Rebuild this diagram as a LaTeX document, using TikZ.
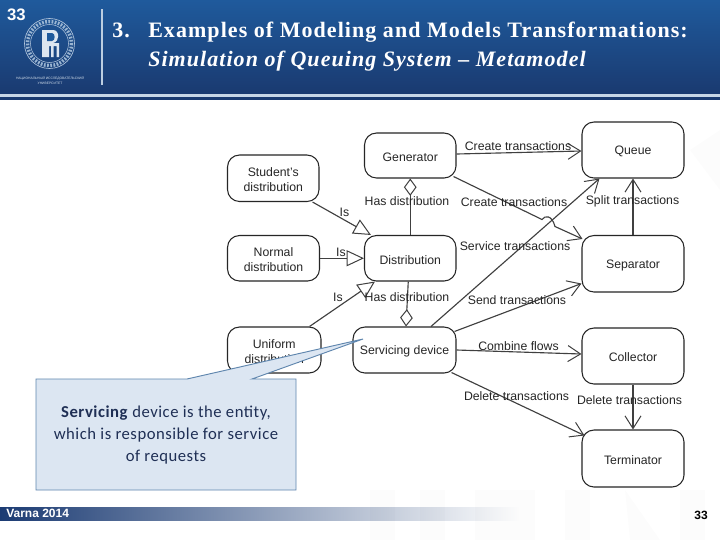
\documentclass[tikz,border=0pt]{standalone}
\usepackage{fontspec}
\setmainfont{Liberation Sans}
\newfontfamily\ttlfont[LetterSpace=4.8]{Liberation Serif}
\newfontfamily\callfont[LetterSpace=3.1]{Carlito}
\usetikzlibrary{arrows.meta,calc,shapes.misc}
\definecolor{hdtop}{HTML}{1F5A9C}
\definecolor{hdbot}{HTML}{1A3A70}
\definecolor{navy}{HTML}{1B3B73}
\definecolor{calfill}{HTML}{DCE6F2}
\definecolor{caledge}{HTML}{5F86AE}
\definecolor{caltext}{HTML}{1F2F55}
\tikzset{
 ent/.style={draw=black!85,line width=.8pt,rounded corners=9pt,fill=white,inner sep=0pt},
 lbl/.style={inner sep=0pt,font=\fontsize{9.2}{10.9}\selectfont,text=black!85},
 con/.style={draw=black!75,line width=.85pt},
 opena/.style={con,-{Straight Barb[length=9.5pt,width=12pt,line width=.75pt]}},
 tri/.style={con,-{Triangle[open,fill=white,length=13pt,width=12pt,line width=.75pt]}},
 dia/.style={con,{Diamond[open,fill=white,length=13pt,width=9.5pt,line width=.75pt]}-},
 wmark/.style={fill=black,opacity=.012},
}
\newcommand{\entity}[6]{\node[ent,minimum width=#4*.75pt-#2*.75pt,minimum height=#5*.75pt-#3*.75pt,label={[lbl,align=center,yshift=-1.2pt]center:#6}] (#1) at ({(#2+#4)/2},{(#3+#5)/2}) {};}
\begin{document}
\begin{tikzpicture}[x=.75pt,y=-.75pt]
\useasboundingbox (0,0) rectangle (720,540);
\fill[white] (0,0) rectangle (720,540);
% header
\shade[top color=hdtop,bottom color=hdbot] (0,0) rectangle (720,94);
\fill[white!75!hdtop] (0,94) rectangle (720,96.5);
\fill[hdbot] (0,96.5) rectangle (720,100);
\fill[white!70!hdtop] (101,9) rectangle (103,85);
\node[inner sep=0pt,text=white,font=\bfseries\fontsize{12.5}{13}\selectfont] (pgn) at (16.5,14.5) {33};
% logo
\coordinate (lg) at (49.5,43.5);
\draw[white!65!hdtop,line width=.5pt] (lg) circle (25);
\draw[white!65!hdtop,line width=.4pt] (lg) circle (19);
\draw[white!55!hdtop,line width=2.6pt,dash pattern=on 1.3pt off 1.1pt] (lg) circle (22);
\fill[white!85!hdtop] (42,30) -- (53,30) .. controls (60,30) and (60,42) .. (53,43) -- (59,43) -- (59,57) -- (56.5,57) -- (56.5,46) -- (53.5,46) -- (53.5,57) -- (51,57) -- (51,46) -- (49,46) -- (49,57) -- (42,57) -- cycle;
\fill[hdtop] (47,33) -- (52,33) .. controls (55.5,33) and (55.5,41) .. (52,41) -- (47,41) -- cycle;
\node[inner sep=0pt,align=center,text=white!80!hdtop,font=\fontsize{2.5}{3.4}\selectfont] (uni) at (50,80.5) {НАЦИОНАЛЬНЫЙ ИССЛЕДОВАТЕЛЬСКИЙ\\УНИВЕРСИТЕТ};
% title
\node[anchor=base west,inner sep=0pt,text=white,font=\ttlfont\bfseries\fontsize{16.5}{18}\selectfont] (t0) at (112,37) {3.};
\node[anchor=base west,inner sep=0pt,text=white,font=\ttlfont\bfseries\fontsize{16.5}{18}\selectfont] (t1) at (148,37) {Examples of Modeling and Models Transformations:};
\node[anchor=base west,inner sep=0pt,text=white,font=\ttlfont\bfseries\itshape\fontsize{16.5}{18}\selectfont] (t2) at (148,66) {Simulation of Queuing System – Metamodel};
% footer
\shade[left color=navy,right color=white,shading angle=90] (0,507) rectangle (520,520);
\node[anchor=west,inner sep=0pt,text=white,font=\bfseries\fontsize{9}{10}\selectfont] (vn) at (6,513) {Varna 2014};
\node[inner sep=0pt,text=black,font=\bfseries\fontsize{9}{10}\selectfont] (pn) at (701,515) {33};
% watermark
\fill[wmark] (370,490) rectangle (395,540) (420,490) rectangle (445,540) (475,490) rectangle (535,540) (565,490) rectangle (590,540) (625,490) -- (660,540) -- (630,540) -- cycle (680,490) rectangle (705,540);
\fill[wmark] (690,150) -- (720,130) -- (720,190) -- cycle;
% nodes
\entity{gen}{364.5}{133}{456}{178}{Generator}
\entity{stu}{227.5}{155}{319}{201.5}{Student's\\distribution}
\entity{nor}{227.5}{235.5}{319.5}{281}{Normal\\distribution}
\entity{uni2}{227.5}{327}{321}{373}{Uniform\\distribution}
\entity{dis}{364.5}{235.5}{456}{281}{Distribution}
\entity{ser}{353}{327}{456}{373}{Servicing device}
\entity{que}{582}{122}{684}{178}{Queue}
\entity{sep}{582}{235.5}{684}{292}{Separator}
\entity{col}{582}{328}{684}{384}{Collector}
\entity{ter}{582}{430}{684}{487}{Terminator}
% connectors
\draw[opena] ($(gen.east)+(0,-1.5)$) -- ($(que.west)+(0,1)$);
\draw[opena] ($(gen.south east)+(-3,-2)$) -- (542,219.5) .. controls (545,215) and (552,215) .. (555,226.5) -- ($(sep.north west)+(1,4)$);
\draw[opena] ($(ser.north)+(26.5,0)$) -- ($(que.south west)+(18,0)$);
\draw[opena] (sep.north) -- (que.south);
\draw[opena] ($(ser.north east)+(-2,5)$) -- ($(sep.south west)+(0,-9)$);
\draw[opena] (ser.east) -- ($(col.west)+(0,-2)$);
\draw[opena] ($(ser.south east)+(-5,-1)$) -- ($(ter.north west)+(3,6)$);
\draw[opena] (col.south) -- (ter.north);
\draw[tri] ($(stu.south east)+(-7,0)$) -- ($(dis.north west)+(7,0)$);
\draw[tri] (nor.east) -- (dis.west);
\draw[tri] ($(uni2.north east)+(-12,0)$) -- ($(dis.south west)+(11,0)$);
\draw[dia] (gen.south) -- (dis.north);
\draw[dia] ($(ser.north)+(1.5,0)$) -- ($(dis.south)+(-2,0)$);
% labels
\node[lbl] (l1) at (518,146) {Create transactions};
\node[lbl] (l2) at (407,201) {Has distribution};
\node[lbl] (l3) at (514,202) {Create transactions};
\node[lbl] (l4) at (632.5,201) {Split transactions};
\node[lbl] (l5) at (344.5,212) {Is};
\node[lbl] (l6) at (341,252) {Is};
\node[lbl] (l7) at (338,297) {Is};
\node[lbl] (l8) at (515,246) {Service transactions};
\node[lbl] (l9) at (407,297) {Has distribution};
\node[lbl] (l10) at (517,300) {Send transactions};
\node[lbl] (l11) at (518.5,346) {Combine flows};
\node[lbl] (l12) at (516.5,396) {Delete transactions};
\node[lbl] (l13) at (629.5,400) {Delete transactions};
% callout
\fill[calfill] (36,379) -- (187,379) -- (363,339) -- (252,379) -- (296,379) -- (296,490) -- (36,490) -- cycle;
\draw[caledge,line width=.7pt] (36,379) -- (187,379) -- (363,339) -- (252,379) -- (296,379) -- (296,490) -- (36,490) -- cycle;
\node[inner sep=0pt,align=center,text=caltext,font=\callfont\fontsize{12.5}{16.2}\selectfont] (cal) at (166,435) {\textbf{Servicing} device is the entity,\\which is responsible for service\\of requests};
\end{tikzpicture}
\end{document}
